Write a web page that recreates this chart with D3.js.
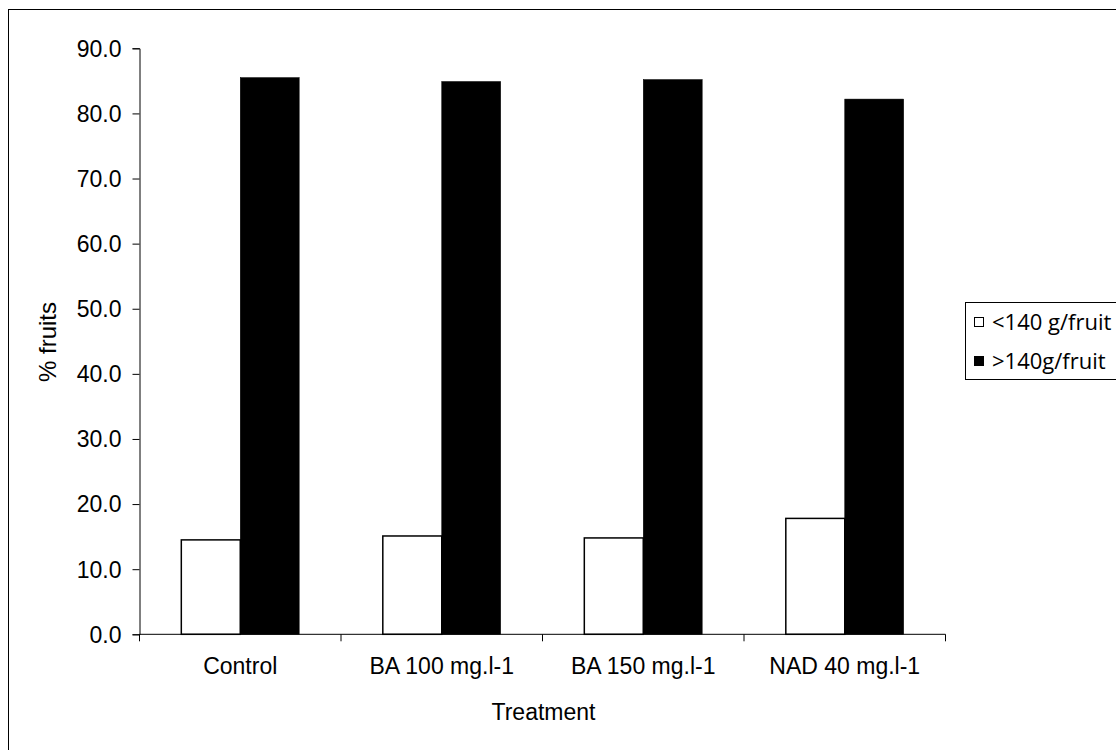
<!DOCTYPE html>
<html>
<head>
<meta charset="utf-8">
<script src="https://cdn.jsdelivr.net/npm/d3@7"></script>
<style>
  html, body { margin: 0; padding: 0; background: #fff; }
  svg { display: block; }
  text { fill: #000; }
</style>
</head>
<body>
<svg id="chart" width="1116" height="750"></svg>
<script>
// Treatments on the category axis
const categories = ["Control", "BA 100 mg.l-1", "BA 150 mg.l-1", "NAD 40 mg.l-1"];
// Fruit-size classes
const seriesNames = ["<140 g/fruit", ">140g/fruit"];
const seriesFill = ["#ffffff", "#000000"];
// Percentage of fruits per class, one value per treatment
const smallFruit = [14.5, 15.1, 14.8, 17.8];
const largeFruit = [85.5, 84.9, 85.2, 82.2];
// Value-axis ticks
const yTicks = [0, 10, 20, 30, 40, 50, 60, 70, 80, 90];

const svg = d3.select("#chart");
const axisFont = "'Liberation Sans', Arial, sans-serif";
const legendFont = "'Open Sans', 'Noto Sans', sans-serif";

// Outer chart frame
svg.append("rect")
  .attr("x", 8.5).attr("y", 9.5)
  .attr("width", 1200).attr("height", 800)
  .attr("fill", "none").attr("stroke", "#000").attr("stroke-width", 1);

const plot = { left: 139.5, right: 945.5, top: 48.3, bottom: 634.3 };

const x = d3.scaleBand()
  .domain(categories)
  .range([plot.left, plot.right])
  .paddingInner(0).paddingOuter(0);

const bw = x.bandwidth();
const x1 = d3.scaleBand()
  .domain(seriesNames)
  .range([bw * 0.2075, bw * 0.7925])
  .padding(0);

const y = d3.scaleLinear()
  .domain([0, 90])
  .range([plot.bottom, plot.top]);

const rows = categories.map((c, i) => ({ cat: c, vals: [smallFruit[i], largeFruit[i]] }));

// Bars
const groups = svg.append("g").selectAll("g")
  .data(rows).join("g")
  .attr("transform", d => `translate(${x(d.cat)},0)`);

groups.selectAll("rect")
  .data(d => d.vals.map((v, k) => ({ name: seriesNames[k], v, k })))
  .join("rect")
  .attr("x", d => x1(d.name))
  .attr("y", d => y(d.v))
  .attr("width", x1.bandwidth())
  .attr("height", d => y(0) - y(d.v))
  .attr("fill", d => seriesFill[d.k])
  .attr("stroke", "#000")
  .attr("stroke-width", d => d.k === 0 ? 1.5 : 0.5);

// Value axis
const yAxis = svg.append("g")
  .attr("transform", `translate(${plot.left},0)`)
  .call(d3.axisLeft(y).tickValues(yTicks).tickFormat(d3.format(".1f")).tickSize(7).tickPadding(11));
yAxis.select(".domain").attr("stroke", "#000");
yAxis.selectAll(".tick line").attr("stroke", "#000");
yAxis.selectAll(".tick text")
  .attr("font-family", axisFont).attr("font-size", 23).attr("fill", "#000")
  .attr("dy", "0.34em");

// Category axis with ticks between categories
const xAxisG = svg.append("g")
  .attr("transform", `translate(0,${plot.bottom})`);
xAxisG.append("line")
  .attr("x1", plot.left).attr("x2", plot.right)
  .attr("y1", 0).attr("y2", 0)
  .attr("stroke", "#000");
const boundaries = categories.map(c => x(c)).concat([x(categories[categories.length - 1]) + bw]);
xAxisG.selectAll("line.tk")
  .data(boundaries).join("line")
  .attr("class", "tk")
  .attr("x1", d => d).attr("x2", d => d)
  .attr("y1", 0).attr("y2", 7)
  .attr("stroke", "#000");
xAxisG.selectAll("text")
  .data(categories).join("text")
  .attr("x", d => x(d) + bw / 2)
  .attr("y", 40)
  .attr("text-anchor", "middle")
  .attr("font-family", axisFont).attr("font-size", 23)
  .text(d => d);

// Axis titles
svg.append("text")
  .attr("x", (plot.left + plot.right) / 2 + 1)
  .attr("y", 720)
  .attr("text-anchor", "middle")
  .attr("font-family", axisFont).attr("font-size", 23)
  .text("Treatment");

svg.append("text")
  .attr("transform", "translate(56,342) rotate(-90)")
  .attr("text-anchor", "middle")
  .attr("font-family", axisFont).attr("font-size", 24)
  .text("% fruits");

// Legend
const legend = svg.append("g");
legend.append("rect")
  .attr("x", 965.5).attr("y", 302.5)
  .attr("width", 200).attr("height", 77)
  .attr("fill", "#fff").attr("stroke", "#000");
const items = legend.selectAll("g.item")
  .data(seriesNames).join("g")
  .attr("class", "item")
  .attr("transform", (d, i) => `translate(0,${322 + i * 39})`);
items.append("rect")
  .attr("x", 974.5).attr("y", -4.5)
  .attr("width", 9).attr("height", 9)
  .attr("fill", (d, i) => seriesFill[i])
  .attr("stroke", "#000");
items.append("text")
  .attr("x", 992)
  .attr("y", 8)
  .attr("font-family", legendFont).attr("font-size", 22)
  .text(d => d);
</script>
</body>
</html>
